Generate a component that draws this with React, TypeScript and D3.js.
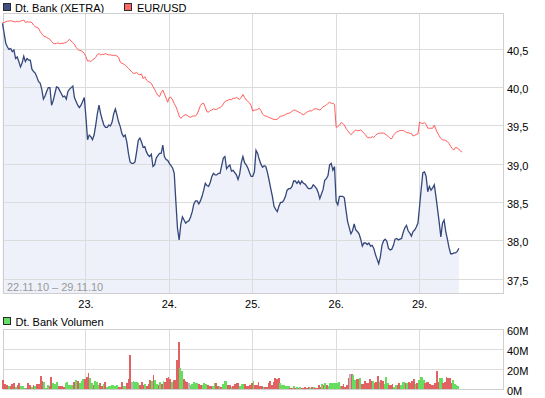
import React from 'react';
import * as d3 from 'd3';

// ---------- data ----------
const dayTickLabels = ['23.', '24.', '25.', '26.', '29.'];
const dateRangeLabel = '22.11.10 – 29.11.10';
const slotsPerDay = 51; // 10-minute slots, XETRA 09:00–17:30

const priceTicks = [37.5, 38, 38.5, 39, 39.5, 40, 40.5];
const volTicks = [0, 20, 40, 60];

// Dt. Bank (XETRA) price, 10-min slots
const dbank22 = [40.84,40.71,40.58,40.53,40.50,40.51,40.47,40.49,40.38,40.40,40.34,40.27,40.32,40.41,40.34,40.38,40.36,40.36,40.24,40.21,40.19,40.14,40.08,40.06,39.98,39.85,39.89,39.95,40.00,40.00,39.77,39.83,39.92,40.01,40.00,39.96,39.92,39.88,39.89,39.85,39.95,39.98,40.00,40.02,39.87,39.82,39.77,39.74,39.77,39.82,39.87];
const dbank23 = [39.62,39.32,39.38,39.36,39.32,39.38,39.51,39.66,39.77,39.66,39.58,39.51,39.48,39.48,39.51,39.50,39.55,39.66,39.72,39.64,39.55,39.49,39.40,39.36,39.38,39.29,39.14,39.03,39.01,39.01,39.03,39.16,39.31,39.34,39.29,39.22,39.23,39.16,39.12,39.10,39.13,38.97,38.99,39.08,39.11,39.14,39.14,39.25,39.10,39.06,39.05];
const dbank24 = [39.01,38.98,38.95,38.88,38.51,38.16,38.01,38.21,38.31,38.27,38.23,38.25,38.26,38.31,38.38,38.48,38.52,38.52,38.48,38.52,38.58,38.66,38.75,38.72,38.71,38.76,38.84,38.88,38.86,38.86,38.88,38.88,38.98,39.08,39.10,38.94,38.97,38.99,38.91,38.92,38.89,38.86,38.80,38.87,39.02,39.10,39.02,38.99,38.95,38.89,38.84];
const dbank25 = [38.84,38.90,39.18,39.14,39.06,39.00,38.96,38.98,38.97,38.89,38.79,38.68,38.58,38.45,38.41,38.38,38.45,38.50,38.50,38.53,38.58,38.66,38.68,38.68,38.71,38.78,38.78,38.75,38.78,38.74,38.78,38.75,38.74,38.71,38.68,38.68,38.69,38.73,38.71,38.68,38.63,38.55,38.61,38.67,38.79,38.81,38.85,38.99,39.01,38.92,38.97];
const dbank26 = [38.51,38.47,38.58,38.58,38.58,38.56,38.40,38.25,38.17,38.09,38.13,38.22,38.14,38.12,38.09,38.02,37.93,37.97,37.97,37.95,37.97,37.93,37.94,37.90,37.82,37.76,37.70,37.79,37.94,38.00,38.02,37.99,37.90,37.88,37.89,37.94,38.02,38.03,38.01,38.02,38.03,38.11,38.17,38.20,38.13,38.10,38.06,38.12,38.14,38.18,38.23];
const dbank29 = [38.45,38.68,38.89,38.90,38.84,38.64,38.71,38.66,38.69,38.73,38.58,38.41,38.24,38.05,38.23,38.27,38.12,38.02,37.91,37.83,37.83,37.84,37.84,37.86,37.90];

// EUR/USD, same slots (own hidden scale)
const fx22 = [1.3693,1.3694,1.3697,1.3700,1.3700,1.3702,1.3700,1.3697,1.3697,1.3700,1.3696,1.3700,1.3702,1.3705,1.3694,1.3697,1.3696,1.3696,1.3693,1.3682,1.3675,1.3672,1.3668,1.3654,1.3643,1.3634,1.3630,1.3627,1.3622,1.3618,1.3608,1.3600,1.3598,1.3600,1.3602,1.3598,1.3600,1.3600,1.3602,1.3604,1.3612,1.3618,1.3610,1.3603,1.3595,1.3582,1.3573,1.3568,1.3567,1.3562,1.3555];
const fx23 = [1.3540,1.3520,1.3522,1.3518,1.3525,1.3530,1.3537,1.3550,1.3554,1.3548,1.3550,1.3550,1.3554,1.3550,1.3548,1.3548,1.3546,1.3546,1.3546,1.3543,1.3537,1.3515,1.3510,1.3507,1.3502,1.3495,1.3488,1.3480,1.3471,1.3465,1.3465,1.3470,1.3461,1.3458,1.3462,1.3441,1.3450,1.3435,1.3428,1.3425,1.3420,1.3405,1.3393,1.3378,1.3366,1.3360,1.3378,1.3390,1.3372,1.3354,1.3335];
const fx24 = [1.3357,1.3357,1.3345,1.3329,1.3315,1.3297,1.3273,1.3262,1.3270,1.3276,1.3279,1.3276,1.3270,1.3267,1.3272,1.3273,1.3273,1.3282,1.3300,1.3320,1.3329,1.3330,1.3312,1.3292,1.3291,1.3297,1.3300,1.3305,1.3303,1.3303,1.3308,1.3311,1.3317,1.3327,1.3338,1.3342,1.3345,1.3348,1.3345,1.3354,1.3352,1.3357,1.3352,1.3348,1.3357,1.3370,1.3356,1.3345,1.3339,1.3332,1.3320];
const fx25 = [1.3295,1.3300,1.3300,1.3303,1.3308,1.3297,1.3282,1.3275,1.3273,1.3270,1.3266,1.3264,1.3260,1.3258,1.3257,1.3258,1.3267,1.3272,1.3273,1.3276,1.3279,1.3284,1.3285,1.3288,1.3294,1.3299,1.3299,1.3295,1.3291,1.3287,1.3282,1.3279,1.3284,1.3290,1.3294,1.3297,1.3295,1.3303,1.3305,1.3305,1.3303,1.3300,1.3306,1.3315,1.3318,1.3322,1.3330,1.3335,1.3330,1.3330,1.3325];
const fx26 = [1.3222,1.3225,1.3232,1.3243,1.3240,1.3232,1.3218,1.3207,1.3198,1.3189,1.3195,1.3205,1.3210,1.3207,1.3207,1.3210,1.3204,1.3195,1.3188,1.3177,1.3175,1.3175,1.3180,1.3177,1.3184,1.3192,1.3195,1.3196,1.3196,1.3196,1.3192,1.3186,1.3180,1.3172,1.3171,1.3186,1.3195,1.3201,1.3204,1.3207,1.3208,1.3208,1.3204,1.3198,1.3198,1.3195,1.3195,1.3183,1.3186,1.3190,1.3192];
const fx29 = [1.3246,1.3240,1.3240,1.3243,1.3235,1.3218,1.3218,1.3218,1.3218,1.3232,1.3213,1.3196,1.3184,1.3172,1.3166,1.3165,1.3162,1.3158,1.3150,1.3136,1.3126,1.3120,1.3132,1.3129,1.3124,1.3115,1.3111];

// Dt. Bank volume in millions; direction: r = down, g = up, n = unchanged
const vol22 = [9.3,5.3,4.3,3.3,3.3,5.3,6.3,2.3,4.3,6.3,3.3,3.3,1.3,2,6.3,4.3,2.3,4.3,3.3,5.3,5.3,13.3,8.7,7.3,2,4.3,3.3,12.3,6.3,5.3,7.3,3.3,3.3,3.3,2.3,6.3,7.3,4.3,4.3,4.3,7.3,9.3,8.3,6.3,8.3,10.3,10.3];
const dir22 = 'rrrgrrrgrrgggrrrgrgrrrrgggrrgggrrrrgggggrgrgggr';
const vol23 = [12.3,16.3,11.3,6.3,4.3,8.3,7.3,4.3,6.3,3.3,5.3,7.3,2.3,3.3,3.3,4.3,4.3,3.3,4.3,2.3,2.3,7.3,3.3,3.3,6.3,10.3,34.3,7.3,8.3,7.3,7.3,6.3,4.3,7.3,4.3,5.3,3.3,5.3,9.3,8.3,14.3,9.3,5.3,4.3,7.3,5.3,8.3,7.3,11.3,12.3];
const dir23 = 'rrggrgggrrgrgggggggrrrggrrrnggggrrrgrrrgrggrgrgrrr';
const vol24 = [10.3,7.3,9.3,9.3,29.3,47.3,21.3,18.3,10.3,8.3,7.3,6.3,4.3,5.3,7.3,6.3,6.3,5.3,4.3,4.3,6.3,5.3,4.3,3.3,3.3,3.3,6.3,6.3,3.3,3.3,2.3,5.3,8.3,8.3,4.3,4.3,2.3,3.3,5.3,6.3,6.3,3.3,5.3,5.3,5.3,3.3,3.3,4.3,6.3];
const dir24 = 'rgrrrrggrrrngggggrrgggrrrggrrgrgggrrgrrrrgggrrrrr';
const vol25 = [8.3,4.3,4.3,7.3,3.3,3.3,2.3,2.3,2.3,6.3,8.3,4.3,7.3,11.3,10.3,11.3,6.3,4.3,4.3,3.3,3.3,3.3,2,1.3,3.3,1.3,2.3,1.3,2.3,1.3,1.3,2.3,1.3,2.3,1.3,2.3,2.3,1.3,1.3,4.3,2.3,5.3,4.3,6.3,4.3,3.3,6.3,6.3,6.3,6.3];
const dir25 = 'grrrrrgrrrrrrrrrggggggrrgrgrgrrrrrgrgrrrrgrgrggggg';
const vol26 = [6.3,7.3,3.3,3.3,5.3,2.3,4.3,11.3,15.3,15.3,14.3,9.3,10.3,10.3,11.3,5.3,5.3,8.3,6.3,6.3,10.3,8.3,8.3,6.3,7.3,13.3,7.3,9.3,8.3,5.3,12.3,6.3,4.3,4.3,5.3,2.3,4.3,4.3,6.3,4.3,7.3,7.3,6.3,6.3,7.3,6.3,8.3,10.3,5.3,6.3,9.3];
const dir26 = 'gggrrrrrnrggrrgrrrrrrrgrrrgrrgggrrrggrrgggrgrrrrgrg';
const vol29 = [12.3,12.3,9.3,6.3,7.3,7.3,5.3,4.3,4.3,6.3,18.3,7.3,11.3,11.3,6.3,7.3,12.3,11.3,11.3,6.3,9.3,5.3,4.3,3.3];
const dir29 = 'gggrrrrrrrrrggrrrrrrgggg';

const dbankDays = [dbank22, dbank23, dbank24, dbank25, dbank26, dbank29];
const fxDays = [fx22, fx23, fx24, fx25, fx26, fx29];
const volDays = [vol22, vol23, vol24, vol25, vol26, vol29];
const dirDays = [dir22, dir23, dir24, dir25, dir26, dir29];

// ---------- layout ----------
const W = 545;
const H = 398;
const left = 3.5;
const right = 503.5;
const mainTop = 13.5;
const mainBottom = 293.5;
const volTop = 329.5;
const volBottom = 389.5;

const FONT = '"Liberation Sans", Arial, sans-serif';
const GRID = '#dcdcdc';
const BORDER = '#cfcfcf';

const xScale = d3.scaleLinear().domain([0, 6]).range([2.5, 503]);
const yPrice = d3.scaleLinear().domain([37.5, 40.5]).range([279, 49.33]);
const yFx = d3.scaleLinear().domain([1.375, 1.249]).range([10, 290]);
const yVol = d3.scaleLinear().domain([0, 60]).range([volBottom, volTop]);

const px = (v: number) => Math.floor(v) + 0.5;

type P = [number, number];
const toPts = (days: number[][]): P[] =>
  days.flatMap((arr, d) => arr.map((v, i) => [d + i / slotsPerDay, v] as P));

const dbankPts = toPts(dbankDays);
const fxPts = toPts(fxDays);

const dbankLine = d3.line<P>().x((p) => xScale(p[0])).y((p) => yPrice(p[1]));
const dbankArea = d3
  .area<P>()
  .x((p) => xScale(p[0]))
  .y0(mainBottom)
  .y1((p) => yPrice(p[1]));
const fxLine = d3.line<P>().x((p) => xScale(p[0])).y((p) => yFx(p[1]));

const volColor: Record<string, string> = { r: '#e06262', g: '#66dd5e', n: '#b8b8b8' };

type Bar = { t: number; v: number; c: string };
const bars: Bar[] = volDays.flatMap((arr, d) => {
  const n = d < 5 ? arr.length : slotsPerDay;
  return arr.map((v, i) => ({ t: d + (i + 0.5) / n, v, c: volColor[dirDays[d][i]] }));
});

const dayLines = [1, 2, 3, 4, 5];

export default function App() {
  return (
    <svg
      width={W}
      height={H}
      style={{ position: 'absolute', left: 0, top: 0, background: '#fff' }}
      fontFamily={FONT}
    >
      {/* Legend main */}
      <rect x={3.5} y={3.5} width={7} height={7} fill="#3f5083" stroke="#2a2a2a" />
      <text x={15} y={11.5} fontSize={11} fill="#000">Dt. Bank (XETRA)</text>
      <rect x={124.5} y={3.5} width={7} height={7} fill="#ff6666" stroke="#2a2a2a" />
      <text x={137} y={11.5} fontSize={11} fill="#000">EUR/USD</text>

      {/* Main panel */}
      <path d={dbankArea(dbankPts) || ''} fill="#eef1fa" />
      {priceTicks.map((t) => (
        <line key={'hg' + t} x1={left} x2={right} y1={px(yPrice(t))} y2={px(yPrice(t))} stroke={GRID} />
      ))}
      {dayLines.map((d) => (
        <line key={'vg' + d} x1={px(xScale(d))} x2={px(xScale(d))} y1={mainTop} y2={mainBottom} stroke={GRID} />
      ))}
      <rect x={left} y={mainTop} width={right - left} height={mainBottom - mainTop} fill="none" stroke={BORDER} />
      <path d={fxLine(fxPts) || ''} fill="none" stroke="#ff5c5c" strokeWidth={1} />
      <path d={dbankLine(dbankPts) || ''} fill="none" stroke="#34477a" strokeWidth={1.3} />
      <text x={7} y={291} fontSize={11} fill="#999">{dateRangeLabel}</text>

      {priceTicks.map((t) => (
        <text key={'pl' + t} x={507} y={px(yPrice(t)) + 5} fontSize={11} fill="#000">
          {t.toFixed(1).replace('.', ',')}
        </text>
      ))}
      {dayTickLabels.map((lab, i) => (
        <text key={'dl' + lab} x={xScale(i + 1)} y={308} fontSize={11} fill="#000" textAnchor="middle">
          {lab}
        </text>
      ))}

      {/* Volume legend */}
      <rect x={3.5} y={317.5} width={7} height={7} fill="#66dd66" stroke="#2a2a2a" />
      <text x={15.5} y={325.5} fontSize={11} fill="#000">Dt. Bank Volumen</text>

      {/* Volume panel */}
      {volTicks.map((t) => (
        <line key={'vh' + t} x1={left} x2={right} y1={px(yVol(t))} y2={px(yVol(t))} stroke={GRID} />
      ))}
      {dayLines.map((d) => (
        <line key={'vv' + d} x1={px(xScale(d))} x2={px(xScale(d))} y1={volTop} y2={volBottom} stroke={GRID} />
      ))}
      <rect x={left} y={volTop} width={right - left} height={volBottom - volTop} fill="none" stroke={BORDER} />
      <g shapeRendering="crispEdges">
        {bars.map((b, i) => (
          <rect
            key={'b' + i}
            x={xScale(b.t) - 0.9}
            width={1.8}
            y={yVol(b.v)}
            height={yVol(0) - yVol(b.v) - 0.5}
            fill={b.c}
          />
        ))}
      </g>
      {volTicks.map((t) => (
        <text key={'vl' + t} x={507} y={px(yVol(t)) + 5} fontSize={11} fill="#000">
          {t + 'M'}
        </text>
      ))}
    </svg>
  );
}
